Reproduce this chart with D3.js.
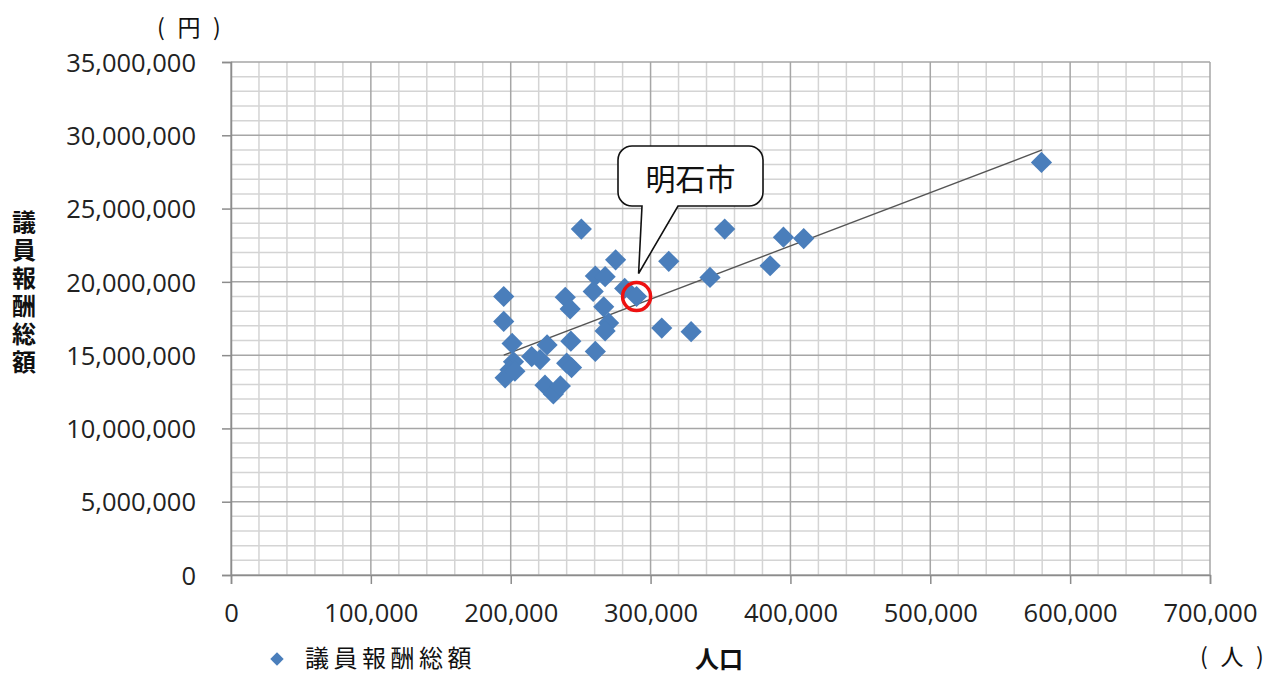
<!DOCTYPE html>
<html>
<head>
<meta charset="utf-8">
<script src="https://cdn.jsdelivr.net/npm/d3@7"></script>
<style>
  html, body { margin: 0; padding: 0; background: #fff; }
  svg { display: block; }
  .tick text { font-family: "Open Sans", "DejaVu Sans", sans-serif; }
</style>
</head>
<body>
<svg id="chart" width="1280" height="675"></svg>
<script>
// Population (people) of each city
const population = [
  195000, 195000, 201000, 202000, 199500, 196000, 203000, 215000, 221000, 226000,
  224500, 230500, 235500, 239000, 242500, 243000, 240000, 243500, 260500, 267500,
  275000, 259000, 266500, 270000, 267500, 260500, 281500, 290000, 250500, 313000,
  353000, 342500, 385500, 395000, 409500, 308000, 329000, 579500
];
// Total annual council member remuneration (yen)
const remuneration = [
  19000000, 17300000, 15800000, 14550000, 14000000, 13450000, 13900000, 14900000, 14700000, 15700000,
  12950000, 12350000, 12900000, 18950000, 18150000, 15950000, 14450000, 14150000, 20400000, 20350000,
  21500000, 19350000, 18300000, 17200000, 16650000, 15250000, 19550000, 19000000, 23600000, 21400000,
  23600000, 20300000, 21100000, 23050000, 22950000, 16850000, 16600000, 28150000
];
// Linear trend line end points
const trendPopulation = [195000, 580000];
const trendRemuneration = [15000000, 29000000];
// Highlighted city
const highlightName = "明石市";
const highlightPopulation = 290000;
const highlightRemuneration = 19000000;

const xTicks = [0, 100000, 200000, 300000, 400000, 500000, 600000, 700000];
const yTicks = [0, 5000000, 10000000, 15000000, 20000000, 25000000, 30000000, 35000000];
const seriesName = "議員報酬総額";
const xTitle = "人口";
const yTitle = "議員報酬総額";
const yUnit = "円";
const xUnit = "人";

const svg = d3.select("#chart");
const x = d3.scaleLinear().domain([0, 700000]).range([231, 1210]);
const y = d3.scaleLinear().domain([0, 35000000]).range([575, 62]);
const fmt = d3.format(",");

// minor grid
const minorX = d3.range(0, 700001, 20000).filter(v => v % 100000 !== 0);
const minorY = d3.range(0, 35000001, 1000000).filter(v => v % 5000000 !== 0);
const grid = svg.append("g");
grid.selectAll("line.mx").data(minorX).join("line")
  .attr("x1", d => x(d)).attr("x2", d => x(d))
  .attr("y1", y(0)).attr("y2", y(35000000))
  .attr("stroke", "#d4d4d4").attr("stroke-width", 1.5);
grid.selectAll("line.my").data(minorY).join("line")
  .attr("y1", d => y(d)).attr("y2", d => y(d))
  .attr("x1", x(0)).attr("x2", x(700000))
  .attr("stroke", "#d4d4d4").attr("stroke-width", 1.5);
// major grid
grid.selectAll("line.Mx").data(xTicks).join("line")
  .attr("x1", d => x(d)).attr("x2", d => x(d))
  .attr("y1", y(0)).attr("y2", y(35000000))
  .attr("stroke", "#a6a6a6").attr("stroke-width", 1.5);
grid.selectAll("line.My").data(yTicks).join("line")
  .attr("y1", d => y(d)).attr("y2", d => y(d))
  .attr("x1", x(0)).attr("x2", x(700000))
  .attr("stroke", "#a6a6a6").attr("stroke-width", 1.5);

// axes
const xAxis = svg.append("g").attr("transform", `translate(0,${y(0)})`)
  .call(d3.axisBottom(x).tickValues(xTicks).tickFormat(fmt).tickSize(9).tickPadding(20));
const yAxis = svg.append("g").attr("transform", `translate(${x(0)},0)`)
  .call(d3.axisLeft(y).tickValues(yTicks).tickFormat(fmt).tickSize(9).tickPadding(26));
[xAxis, yAxis].forEach(a => {
  a.select(".domain").attr("stroke", "#8c8c8c").attr("stroke-width", 1.5);
  a.selectAll(".tick line").attr("stroke", "#8c8c8c").attr("stroke-width", 1.5);
  a.selectAll(".tick text").attr("font-size", 25.5).attr("fill", "#222");
});
yAxis.selectAll(".tick text").attr("dy", "0.36em");

// trend line
svg.append("line")
  .attr("x1", x(trendPopulation[0])).attr("y1", y(trendRemuneration[0]))
  .attr("x2", x(trendPopulation[1])).attr("y2", y(trendRemuneration[1]))
  .attr("stroke", "#555").attr("stroke-width", 1.4);

// scatter points
const diamond = d3.symbol().type(d3.symbolSquare).size(225);
svg.append("g").selectAll("path").data(population).join("path")
  .attr("d", diamond)
  .attr("transform", (d, i) => `translate(${x(d)},${y(remuneration[i])}) rotate(45)`)
  .attr("fill", "#4a7ebb");

// callout for the highlighted city
const cx = x(highlightPopulation), cy = y(highlightRemuneration);
svg.append("circle")
  .attr("cx", cx).attr("cy", cy).attr("r", 14)
  .attr("fill", "none").attr("stroke", "#ee1111").attr("stroke-width", 3.5);

const bx0 = 618, by0 = 146, bx1 = 763, by1 = 206, r = 14;
const tipX = cx + 2, tipY = cy - 23;
const callout = d3.path();
callout.moveTo(bx0 + r, by0);
callout.lineTo(bx1 - r, by0);
callout.arcTo(bx1, by0, bx1, by0 + r, r);
callout.lineTo(bx1, by1 - r);
callout.arcTo(bx1, by1, bx1 - r, by1, r);
callout.lineTo(678, by1);
callout.lineTo(tipX, tipY);
callout.lineTo(642, by1);
callout.lineTo(bx0 + r, by1);
callout.arcTo(bx0, by1, bx0, by1 - r, r);
callout.lineTo(bx0, by0 + r);
callout.arcTo(bx0, by0, bx0 + r, by0, r);
callout.closePath();
svg.append("path").attr("d", callout.toString())
  .attr("fill", "#fff").attr("stroke", "#111").attr("stroke-width", 1.6);
svg.append("text")
  .attr("x", (bx0 + bx1) / 2).attr("y", (by0 + by1) / 2 + 1)
  .attr("text-anchor", "middle").attr("dominant-baseline", "central")
  .attr("font-family", "'Noto Sans CJK JP', sans-serif")
  .attr("font-size", 30).attr("fill", "#111").text(highlightName);

// titles and units
const cjk = "'Noto Sans CJK JP', sans-serif";
function unitLabel(cxPos, cyPos, word) {
  const g = svg.append("g").attr("font-family", cjk).attr("font-size", 23).attr("fill", "#111")
    .attr("text-anchor", "middle").attr("dominant-baseline", "central");
  g.append("text").attr("x", cxPos - 28).attr("y", cyPos).text("(");
  g.append("text").attr("x", cxPos).attr("y", cyPos).text(word);
  g.append("text").attr("x", cxPos + 28).attr("y", cyPos).text(")");
}
unitLabel(189, 26, yUnit);
unitLabel(1232, 655, xUnit);

svg.append("text")
  .attr("transform", "translate(24,210)")
  .style("writing-mode", "vertical-rl")
  .attr("letter-spacing", 4)
  .attr("text-anchor", "start")
  .attr("font-family", cjk).attr("font-weight", "bold")
  .attr("font-size", 24).attr("fill", "#111").text(yTitle);
svg.append("text").attr("x", 719).attr("y", 657)
  .attr("text-anchor", "middle").attr("dominant-baseline", "central")
  .attr("font-family", cjk).attr("font-weight", "bold")
  .attr("font-size", 24).attr("fill", "#111").text(xTitle);

// legend
svg.append("path").attr("d", d3.symbol().type(d3.symbolSquare).size(90))
  .attr("transform", "translate(277,659) rotate(45)").attr("fill", "#4a7ebb");
svg.append("text").attr("x", 305).attr("y", 656)
  .attr("dominant-baseline", "central").attr("letter-spacing", 4.5)
  .attr("font-family", cjk).attr("font-size", 24).attr("fill", "#111").text(seriesName);
</script>
</body>
</html>
